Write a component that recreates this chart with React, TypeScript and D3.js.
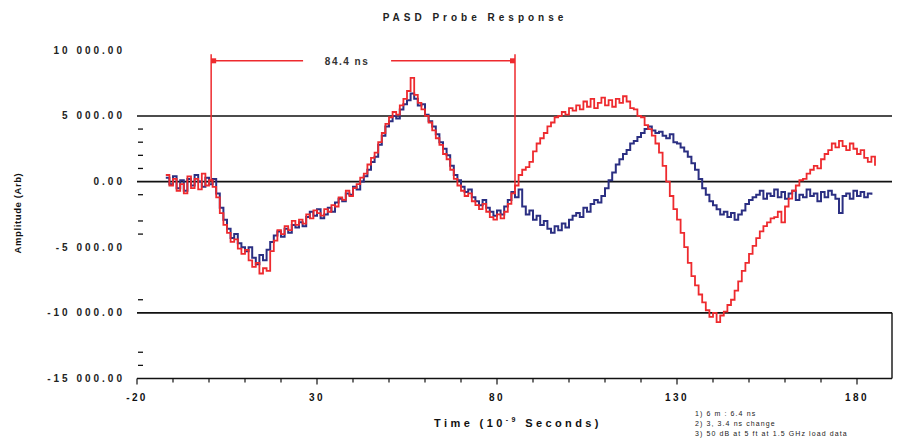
import React from "react";
import * as d3 from "d3";

// ---- data ----
const blueStart = -12; // ns, sampled every 1 ns
const blueValues = [
  300, -200, 400, -500, 100, -700, 200, -300, 500, 0, -400, 300, -200, 200,
  -900, -2000, -2900, -3600, -4300, -4000, -4700, -5000, -5300, -5000,
  -5800, -6300, -5600, -6000, -5200, -4600, -4100, -3800, -4200, -3600,
  -3900, -3300, -3500, -3100, -3400, -2700, -2300, -2600, -2100, -2800,
  -2500, -2000, -2300, -1600, -1300, -1500, -900, -1000, -400, -600,
  0, 400, 900, 1500, 1900, 2800, 3500, 4200, 4600, 5000,
  4800, 5500, 5900, 6200, 6700, 6300, 5800, 5900, 5100, 4600,
  4200, 3600, 3000, 2500, 2000, 1200, 500, 100, -400, -800,
  -600, -1200, -1500, -1800, -1400, -2000, -2300, -2600, -2200, -2500,
  -1900, -1400, -800, -1200, -600, -1900, -2500, -2200, -2900, -2600,
  -3300, -3000, -3600, -3900, -3400, -3700, -3200, -3500, -2900, -2600,
  -2400, -2700, -2000, -2300, -1700, -1400, -1600, -1100, -500, 100,
  700, 1300, 1700, 2100, 2400, 2900, 3100, 3400, 3700, 4000,
  4200, 3900, 3700, 3800, 3500, 3300, 3600, 3000, 2900, 2600,
  2300, 1900, 1400, 900, 200, -500, -1000, -1500, -1800, -2100,
  -2500, -2300, -2700, -2400, -2900, -2500, -2200, -1700, -1400, -1200,
  -1000, -700, -1300, -900, -1100, -600, -1200, -800, -1300, -900,
  -700, -1400, -1000, -1200, -600, -1100, -900, -1500, -800, -1200,
  -700, -1000, -1300, -2400, -1100, -900, -1300, -700, -1100, -800,
  -1200, -900, -1000,
];

const redStart = -12;
const redValues = [
  500, -300, 200, -700, -200, -900, 400, -500, 200, -600, 600, -300, 100, -400,
  -1200, -2400, -3300, -3900, -4600, -4400, -5100, -5500, -5200, -6000,
  -6500, -6200, -7000, -6600, -6800, -5300, -4500, -3700, -4000, -3400,
  -3700, -3000, -3300, -2900, -3200, -2500, -2800, -2200, -2400, -2600,
  -2100, -2300, -1800, -1900, -1200, -1400, -700, -1100, -500, -200,
  300, 600, 1300, 1800, 2200, 3000, 3700, 4400, 4900, 5300,
  5100, 5800, 6300, 6900, 7900, 6600, 6000, 5500, 5000, 4500,
  3900, 3300, 2800, 2100, 1700, 900, 200, -300, -700, -1100,
  -900, -1500, -1800, -2100, -1700, -2300, -2700, -2900, -2500, -2800,
  -2300, -1700, -900, -300, 500, 900, 1100, 1500, 2300, 2900,
  3300, 3700, 4200, 4500, 4900, 5000, 5300, 5100, 5600, 5400,
  5800, 5500, 6100, 5700, 6300, 5600, 6000, 6400, 5800, 6200,
  5700, 6300, 6000, 6500, 6100, 5600, 5500, 5000, 4900, 4300,
  4000, 3500, 2900, 2200, 1200, 0, -1100, -2100, -2900, -3900,
  -5000, -6200, -7200, -7900, -8600, -9200, -9800, -10300, -10000, -10700,
  -10200, -9900, -9400, -9000, -8300, -7600, -6800, -6200, -5500, -4900,
  -4300, -3800, -3400, -3100, -2800, -2700, -2300, -3100, -1900, -1300,
  -700, -300, 100, 200, 600, 900, 1200, 1000, 1700, 2100,
  2400, 2900, 2600, 3100, 2700, 2400, 2900, 2500, 2100, 2400,
  1800, 1500, 1900, 1200,
];

const yLabelValues = [10000, 5000, 0, -5000, -10000, -15000];
const yLabels = ["10 000.00", "5 000.00", "0.00", "-5 000.00", "-10 000.00", "-15 000.00"];
const gridValues = [5000, 0, -10000];
const yMinorTicks = [4000, 3000, 2000, 1000, -1000, -3000, -4000, -9000, -13000, -14000];
const xLabelValues = [-20, 30, 80, 130, 180];
const xTickValues = d3.range(-20, 181, 10);

const bracketStart = 0.6;
const bracketEnd = 85.0;
const bracketLevel = 9200;
const bracketTop = 9700;
const bracketLeftBottom = 0;
const bracketRightBottom = -600;
const bracketLabel = "84.4 ns";

const title = "PASD Probe Response";
const notes = ["1) 6 m : 6.4 ns", "2) 3, 3.4 ns change", "3) 50 dB at 5 ft at 1.5 GHz load data"];

const FONT = "'Liberation Sans', Arial, sans-serif";
const NAVY = "#2b2f82";
const RED = "#ee2a2e";

export default function App() {
  const x = d3.scaleLinear().domain([-20, 180]).range([137, 857]);
  const y = d3.scaleLinear().domain([-15000, 10000]).range([378.5, 50.3]);
  const xRight = 892;

  const blue = blueValues.map((v, i) => [blueStart + i, v] as [number, number]);
  const red = redValues.map((v, i) => [redStart + i, v] as [number, number]);
  const line = d3
    .line<[number, number]>()
    .x((d) => x(d[0]))
    .y((d) => y(d[1]))
    .curve(d3.curveStepAfter);

  const bx0 = x(bracketStart);
  const bx1 = x(bracketEnd);
  const by = y(bracketLevel);
  const bmid = (bx0 + bx1) / 2 - 20;

  return (
    <svg
      width={900}
      height={440}
      style={{ position: "absolute", left: 0, top: 0, background: "#fff" }}
    >
      <text
        x={475}
        y={21}
        textAnchor="middle"
        fontFamily={FONT}
        fontWeight="bold"
        fontSize={10}
        letterSpacing={4}
        fill="#222"
      >
        {title}
      </text>

      {/* grid lines */}
      {gridValues.map((v) => (
        <line key={v} x1={x(-20)} x2={xRight} y1={y(v)} y2={y(v)} stroke="#111" strokeWidth={1.6} />
      ))}
      {/* x axis */}
      <line x1={x(-20)} x2={xRight} y1={y(-15000)} y2={y(-15000)} stroke="#111" strokeWidth={1.6} />
      <line x1={xRight} x2={xRight} y1={y(-15000)} y2={y(-10000)} stroke="#111" strokeWidth={1.4} />
      {xTickValues.map((t) => (
        <line
          key={t}
          x1={x(t)}
          x2={x(t)}
          y1={y(-15000)}
          y2={y(-15000) + (xLabelValues.includes(t) ? 6 : 4)}
          stroke="#111"
          strokeWidth={1.2}
        />
      ))}
      {xLabelValues.map((t) => (
        <text
          key={t}
          x={x(t)}
          y={401}
          textAnchor="middle"
          fontFamily={FONT}
          fontWeight="bold"
          fontSize={10}
          letterSpacing={2.4}
          fill="#111"
        >
          {t}
        </text>
      ))}

      {/* y ticks & labels */}
      {yMinorTicks.map((v) => (
        <line key={v} x1={138} x2={143} y1={y(v)} y2={y(v)} stroke="#111" strokeWidth={1.3} />
      ))}
      {yLabelValues.map((v, i) => (
        <text
          key={v}
          x={125}
          y={y(v) + 3.5}
          textAnchor="end"
          fontFamily={FONT}
          fontWeight="bold"
          fontSize={10}
          letterSpacing={3}
          fill="#222"
        >
          {yLabels[i]}
        </text>
      ))}

      <text
        transform={`translate(21, 213) rotate(-90)`}
        textAnchor="middle"
        fontFamily={FONT}
        fontWeight="bold"
        fontSize={9.5}
        letterSpacing={0.6}
        fill="#111"
      >
        Amplitude (Arb)
      </text>

      <text
        x={518}
        y={427}
        textAnchor="middle"
        fontFamily={FONT}
        fontWeight="bold"
        fontSize={11}
        letterSpacing={3.4}
        fill="#111"
      >
        Time (10
        <tspan fontSize={7} dy={-5}>
          -9
        </tspan>
        <tspan dy={5}> Seconds)</tspan>
      </text>

      {notes.map((n, i) => (
        <text
          key={i}
          x={695}
          y={416 + i * 10}
          fontFamily={FONT}
          fontSize={7}
          letterSpacing={1.1}
          fill="#222"
        >
          {n}
        </text>
      ))}

      {/* traces */}
      <path d={line(blue) || ""} fill="none" stroke={NAVY} strokeWidth={2} />
      <path d={line(red) || ""} fill="none" stroke={RED} strokeWidth={1.8} />

      {/* bracket annotation */}
      <g stroke={RED} strokeWidth={1.5} fill="none">
        <line x1={bx0} x2={bx0} y1={y(bracketTop)} y2={y(bracketLeftBottom)} />
        <line x1={bx1} x2={bx1} y1={y(bracketTop)} y2={y(bracketRightBottom)} />
        <line x1={bx0} x2={bmid - 40} y1={by} y2={by} />
        <line x1={bmid + 48} x2={bx1} y1={by} y2={by} />
      </g>
      <rect x={bx0} y={by - 2.5} width={5} height={5} fill={RED} />
      <rect x={bx1 - 5} y={by - 2.5} width={5} height={5} fill={RED} />
      <text
        x={bmid + 4}
        y={by + 4}
        textAnchor="middle"
        fontFamily={FONT}
        fontWeight="bold"
        fontSize={10}
        letterSpacing={1.5}
        fill="#333"
      >
        {bracketLabel}
      </text>
    </svg>
  );
}
